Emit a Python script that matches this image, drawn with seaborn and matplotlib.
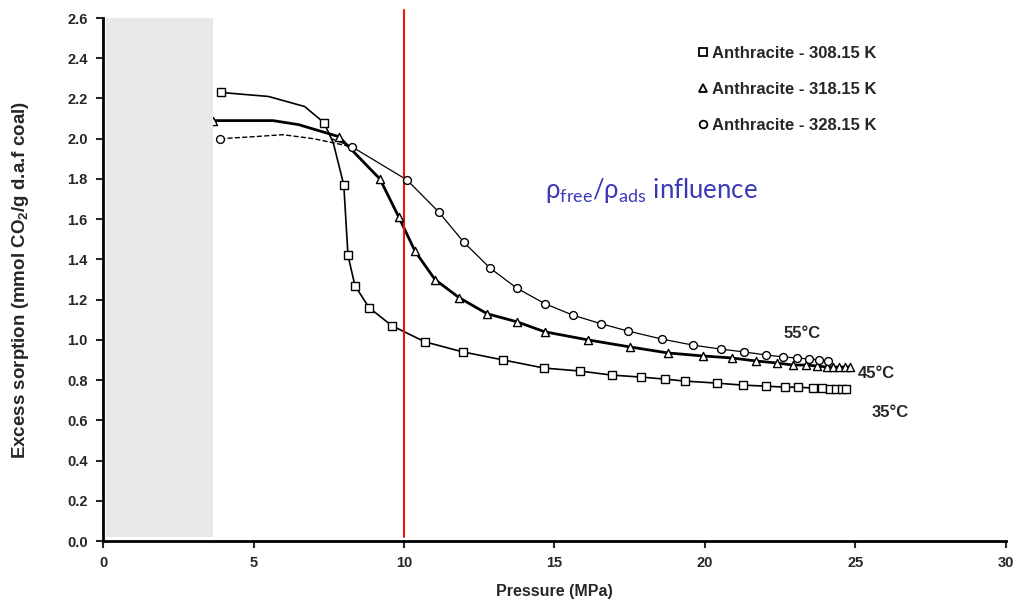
import matplotlib
matplotlib.use("Agg")
import matplotlib.pyplot as plt
from matplotlib.lines import Line2D
from matplotlib.patches import Rectangle
import seaborn as sns

# measured points (pressure MPa, excess sorption mmol/g)
p_308 = [3.92, 7.34, 8.0, 8.14, 8.37, 8.84, 9.6, 10.7, 11.96, 13.3, 14.65, 15.85, 16.9,
         17.87, 18.67, 19.34, 20.4, 21.26, 22.03, 22.66, 23.09, 23.6, 23.9, 24.15, 24.35, 24.55, 24.68]
s_308 = [2.23, 2.08, 1.77, 1.42, 1.27, 1.16, 1.07, 0.99, 0.94, 0.90, 0.86, 0.845, 0.825,
         0.815, 0.805, 0.795, 0.785, 0.775, 0.77, 0.765, 0.765, 0.76, 0.76, 0.755, 0.755, 0.755, 0.755]

p_318 = [3.65, 7.84, 9.2, 9.83, 10.37, 11.03, 11.83, 12.76, 13.75, 14.68, 16.11, 17.5, 18.77,
         19.93, 20.9, 21.7, 22.4, 22.92, 23.36, 23.72, 24.05, 24.25, 24.45, 24.65, 24.82]
s_318 = [2.09, 2.01, 1.80, 1.61, 1.44, 1.30, 1.21, 1.13, 1.09, 1.04, 1.0, 0.965, 0.935,
         0.92, 0.91, 0.895, 0.885, 0.875, 0.875, 0.87, 0.865, 0.865, 0.865, 0.865, 0.865]

p_328 = [3.89, 8.27, 10.1, 11.16, 11.99, 12.86, 13.75, 14.68, 15.61, 16.55, 17.44, 18.57,
         19.6, 20.53, 21.3, 22.03, 22.6, 23.06, 23.46, 23.79, 24.09]
s_328 = [2.0, 1.96, 1.795, 1.635, 1.485, 1.357, 1.257, 1.18, 1.123, 1.08, 1.044, 1.004,
         0.974, 0.954, 0.94, 0.925, 0.915, 0.91, 0.905, 0.90, 0.895]

fit_p_308 = [3.92, 5.5, 6.7, 7.34, 7.65, 7.85] + p_308[2:]
fit_s_308 = [2.23, 2.21, 2.16, 2.08, 1.98, 1.86] + s_308[2:]
fit_p_318 = [3.65, 5.65, 6.5] + p_318[1:]
fit_s_318 = [2.09, 2.09, 2.07] + s_318[1:]
fit_p_328_low = [3.89, 5.0, 5.98, 7.0, 8.27]
fit_s_328_low = [2.0, 2.01, 2.02, 2.0, 1.96]
fit_p_328 = [7.6, 8.27] + p_328[2:]
fit_s_328 = [2.0, 1.96] + s_328[2:]

labels = ["Anthracite - 308.15 K", "Anthracite - 318.15 K", "Anthracite - 328.15 K"]
temps = ["35°C", "45°C", "55°C"]

sns.set_style("white")
plt.rcParams['font.family'] = ['Liberation Sans', 'DejaVu Sans']
plt.rcParams['font.weight'] = 'bold'
plt.rcParams['mathtext.fontset'] = 'dejavusans'

fig, ax = plt.subplots(figsize=(10.14, 6.01), dpi=100)
fig.subplots_adjust(left=0.1016, right=0.992, bottom=0.0998, top=0.970)

# fits
sns.lineplot(x=fit_p_308, y=fit_s_308, ax=ax, color="black", lw=1.2, sort=False, estimator=None)
sns.lineplot(x=fit_p_318, y=fit_s_318, ax=ax, color="black", lw=2.0, sort=False, estimator=None)
sns.lineplot(x=fit_p_328_low, y=fit_s_328_low, ax=ax, color="black", lw=1.0, ls="--", sort=False, estimator=None)
sns.lineplot(x=fit_p_328, y=fit_s_328, ax=ax, color="black", lw=0.9, sort=False, estimator=None)

# points
kw = dict(facecolor="white", edgecolor="black", linewidth=1.0, ax=ax, zorder=4)
sns.scatterplot(x=p_308, y=s_308, marker="s", s=32, **kw)
sns.scatterplot(x=p_318, y=s_318, marker="^", s=34, **kw)
sns.scatterplot(x=p_328, y=s_328, marker="o", s=32, **kw)

# shaded low pressure region and 10 MPa line
ax.add_patch(Rectangle((0.1, 0.02), 3.55, 2.58, facecolor="#e8e8e8", edgecolor="none", zorder=5))
ax.plot([10, 10], [0.02, 2.64], color="#ee1111", lw=1.5, clip_on=False, zorder=3)

ax.set_xlim(0, 30)
ax.set_ylim(0, 2.6)
ax.set_xticks(range(0, 31, 5))
ax.set_yticks([i / 5 for i in range(14)])
ax.set_yticklabels([f"{i / 5:.1f}" for i in range(14)])
ax.tick_params(axis="both", labelsize=10.5, direction="out", length=5, width=1.5,
               left=True, bottom=True, pad=6)
for lab in ax.get_xticklabels() + ax.get_yticklabels():
    lab.set_fontweight("bold")
for side in ["top", "right"]:
    ax.spines[side].set_visible(False)
for side in ["left", "bottom"]:
    ax.spines[side].set_linewidth(2)
    ax.spines[side].set_color("black")

ax.set_xlabel("Pressure (MPa)", fontsize=11.5, fontweight="bold", labelpad=10)
ax.set_ylabel(r"Excess sorption (mmol CO$\mathregular{_2}$/g d.a.f coal)", fontsize=13.5,
              fontweight="bold", labelpad=26)

handles = [Line2D([], [], ls="none", marker=m, mfc="white", mec="black", ms=5.5, mew=1.3)
           for m in ["s", "^", "o"]]
ax.legend(handles, labels, loc="upper left", bbox_to_anchor=(0.639, 0.975), frameon=False,
          prop={"weight": "bold", "size": 12}, handletextpad=0.05, handlelength=1.0,
          labelspacing=1.25)

ax.text(22.6, 1.034, temps[2], fontsize=12, fontweight="bold", va="center")
ax.text(25.08, 0.835, temps[1], fontsize=12, fontweight="bold", va="center")
ax.text(25.55, 0.641, temps[0], fontsize=12, fontweight="bold", va="center")

ax.text(14.7, 1.745, r"$\mathregular{\rho_{free}/\rho_{ads}}$ influence", color="#3a3ab8",
        fontsize=18.5, fontweight="normal", family=["Lato", "DejaVu Sans"], va="center")

fig.savefig("out.png", dpi=100)
